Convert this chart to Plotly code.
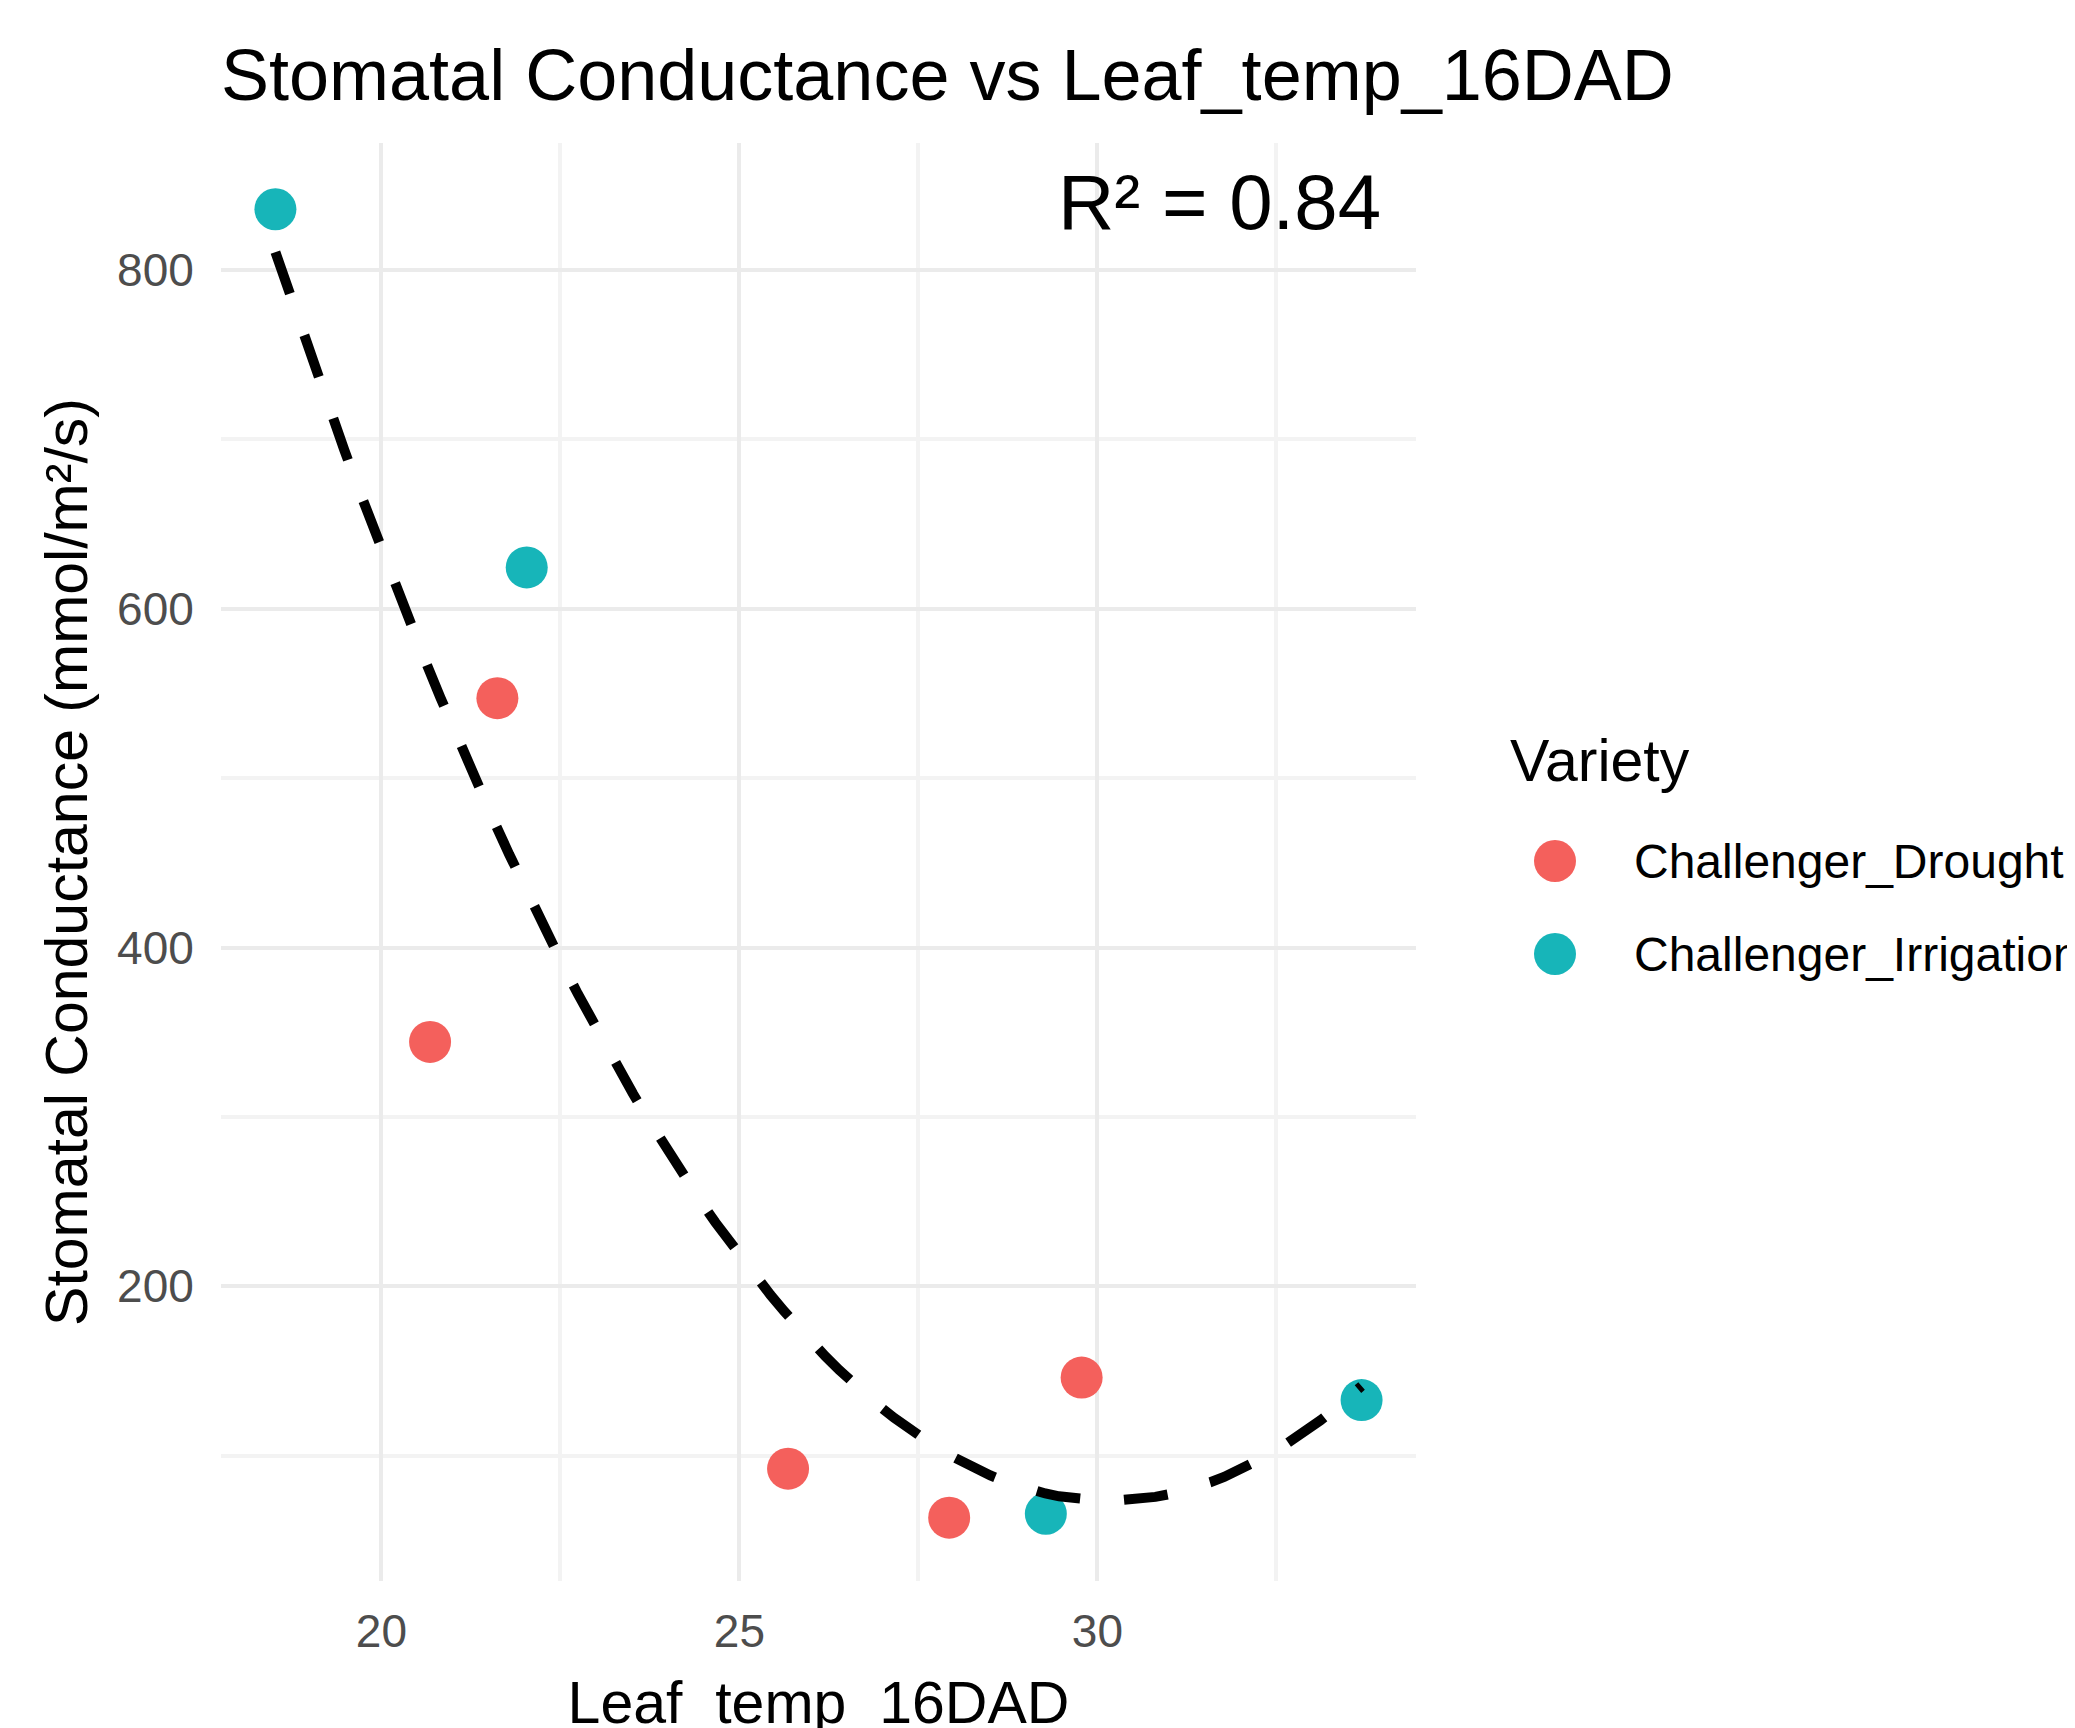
import numpy as np
import plotly.graph_objects as go

# ---- data ----
varieties = ["Challenger_Drought", "Challenger_Irrigation"]
colors = ["#F4605C", "#17B5B9"]
drought_x = [21.62, 20.68, 25.68, 27.93, 29.78]
drought_y = [547.2, 344.3, 92.3, 63.4, 146.1]
irrig_x = [18.52, 22.03, 29.28, 33.69]
irrig_y = [835.9, 624.4, 65.7, 132.8]
x_ticks = [20, 25, 30]
y_ticks = [200, 400, 600, 800]
r2_label = "R² = 0.84"

W, H = 2075, 1728
OFF = 8  # page body margin
L, R, T, B = 221, 1416, 143, 1581  # plot panel in page pixels
FONT = "Liberation Sans, Arial, sans-serif"

fig = go.Figure()
series = [(drought_x, drought_y), (irrig_x, irrig_y)]
for name, col, (xs, ys) in zip(varieties, colors, series):
    fig.add_trace(go.Scatter(x=xs, y=ys, mode="markers", name=name,
                             marker=dict(color=col, size=42, line=dict(width=0)),
                             showlegend=False))

# quadratic fit on all points
all_x = np.array(drought_x + irrig_x)
all_y = np.array(drought_y + irrig_y)
coef = np.polyfit(all_x, all_y, 2)
xf = np.linspace(all_x.min(), all_x.max(), 80)
yf = np.polyval(coef, xf)
fig.add_trace(go.Scatter(x=xf, y=yf, mode="lines", showlegend=False,
                         line=dict(color="black", width=10, dash="44px,44px")))

fig.add_annotation(x=31.7, y=840, text=r2_label, showarrow=False,
                   xanchor="center", yanchor="middle",
                   font=dict(family=FONT, size=78, color="black"))

# manual legend
def px2paper(px, py):
    return (px - L) / (R - L), (B - py) / (B - T)

tx, ty = px2paper(1508, 761)
fig.add_annotation(x=tx, y=ty, xref="paper", yref="paper", text="Variety",
                   showarrow=False, xanchor="left", yanchor="middle",
                   font=dict(family=FONT, size=59, color="black"))
for i, (name, col) in enumerate(zip(varieties, colors)):
    cy = 861 + i * 93
    mx, my = px2paper(1555, cy)
    fig.add_shape(type="circle", xref="paper", yref="paper",
                  xsizemode="pixel", ysizemode="pixel",
                  xanchor=mx, yanchor=my, x0=-21, x1=21, y0=-21, y1=21,
                  fillcolor=col, line=dict(width=0))
    lx, ly = px2paper(1632, cy)
    fig.add_annotation(x=lx, y=ly, xref="paper", yref="paper", text=name,
                       showarrow=False, xanchor="left", yanchor="middle",
                       font=dict(family=FONT, size=48, color="black"))

fig.update_layout(
    width=W, height=H,
    margin=dict(l=L - OFF, r=W - R + OFF, t=T - OFF, b=H - B + OFF, autoexpand=False),
    paper_bgcolor="white", plot_bgcolor="white",
    font=dict(family=FONT, color="black"),
    title=dict(text="Stomatal Conductance vs Leaf_temp_16DAD",
               x=(L - OFF) / W, xref="container", xanchor="left",
               y=1 - (75 - OFF) / H, yref="container", yanchor="middle",
               font=dict(family=FONT, size=72, color="black")),
    showlegend=False,
)
fig.update_xaxes(range=[17.76, 34.45], tickvals=x_ticks,
                 ticks="outside", ticklen=10, tickcolor="rgba(0,0,0,0)",
                 tickfont=dict(family=FONT, size=46, color="#4D4D4D"),
                 showgrid=True, gridcolor="#EBEBEB", gridwidth=4,
                 minor=dict(tickvals=[22.5, 27.5, 32.5], showgrid=True,
                            gridcolor="#F3F3F3", gridwidth=4, ticks=""),
                 zeroline=False, showline=False,
                 title=dict(text="Leaf_temp_16DAD", standoff=26,
                            font=dict(family=FONT, size=59, color="black")))
fig.update_yaxes(range=[26, 875], tickvals=y_ticks,
                 ticks="outside", ticklen=17, tickcolor="rgba(0,0,0,0)",
                 tickfont=dict(family=FONT, size=46, color="#4D4D4D"),
                 showgrid=True, gridcolor="#EBEBEB", gridwidth=4,
                 minor=dict(tickvals=[100, 300, 500, 700], showgrid=True,
                            gridcolor="#F3F3F3", gridwidth=4, ticks=""),
                 zeroline=False, showline=False,
                 title=dict(text="Stomatal Conductance (mmol/m²/s)", standoff=10,
                            font=dict(family=FONT, size=59, color="black")))

fig.write_html("out.html")
